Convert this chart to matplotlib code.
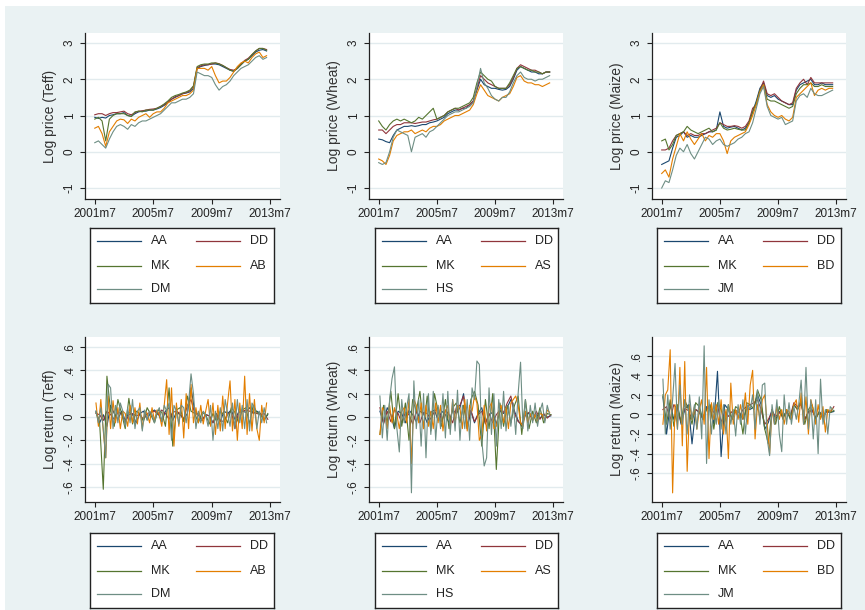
import numpy as np
import matplotlib
matplotlib.use('Agg')
import matplotlib.pyplot as plt
from matplotlib.patches import Rectangle

plt.rcParams['font.family'] = ['Liberation Sans', 'DejaVu Sans']

# months since 2001m7
MONTHS_PRICE = np.arange(0, 142, 3)
MONTHS_RET_DENSE = np.arange(1, 142, 2)
MONTHS_RET_SPARSE = np.arange(1, 143, 3)

XTICKS = [0, 48, 96, 144]
XTICK_LABELS = ['2001m7', '2005m7', '2009m7', '2013m7']

PRICE_TICKS = [-1, 0, 1, 2, 3]
PRICE_TICK_LABELS = ['-1', '0', '1', '2', '3']
RET_TICKS = [-0.6, -0.4, -0.2, 0, 0.2, 0.4, 0.6]
RET_TICK_LABELS = ['-.6', '-.4', '-.2', '0', '.2', '.4', '.6']

TEFF_MARKETS = ['AA', 'DD', 'MK', 'AB', 'DM']
WHEAT_MARKETS = ['AA', 'DD', 'MK', 'AS', 'HS']
MAIZE_MARKETS = ['AA', 'DD', 'MK', 'BD', 'JM']

# ---- log prices (quarterly readings) ----
TEFF_AA = [0.95, 0.92, 0.95, 0.93, 1.0, 1.02, 1.05, 1.05, 1.08, 1.0, 0.98, 1.05,
           1.1, 1.12, 1.12, 1.15, 1.15, 1.18, 1.22, 1.28, 1.35, 1.45, 1.5, 1.55,
           1.6, 1.62, 1.65, 1.75, 2.3, 2.35, 2.38, 2.4, 2.42, 2.42, 2.4, 2.35,
           2.3, 2.25, 2.22, 2.3, 2.4, 2.5, 2.55, 2.65, 2.75, 2.8, 2.82, 2.78]
TEFF_DD = [1.02, 1.05, 1.05, 1.0, 1.05, 1.08, 1.08, 1.1, 1.12, 1.05, 1.02, 1.08,
           1.12, 1.13, 1.15, 1.17, 1.18, 1.2, 1.25, 1.3, 1.38, 1.45, 1.52, 1.55,
           1.6, 1.63, 1.68, 1.8, 2.32, 2.37, 2.4, 2.4, 2.42, 2.45, 2.43, 2.38,
           2.32, 2.27, 2.25, 2.3, 2.42, 2.52, 2.58, 2.68, 2.78, 2.85, 2.85, 2.82]
TEFF_MK = [0.9, 0.95, 0.85, 0.3, 0.9, 1.0, 1.05, 1.05, 1.05, 1.0, 0.97, 1.1,
           1.12, 1.1, 1.15, 1.15, 1.15, 1.2, 1.25, 1.32, 1.4, 1.5, 1.55, 1.58,
           1.62, 1.65, 1.7, 1.82, 2.35, 2.4, 2.42, 2.42, 2.45, 2.45, 2.42, 2.38,
           2.32, 2.25, 2.22, 2.3, 2.4, 2.5, 2.55, 2.68, 2.78, 2.85, 2.85, 2.8]
TEFF_AB = [0.65, 0.7, 0.5, 0.15, 0.55, 0.7, 0.85, 0.9, 0.88, 0.78, 0.9, 0.85,
           0.95, 1.0, 1.05, 0.95, 1.05, 1.1, 1.1, 1.2, 1.35, 1.4, 1.45, 1.5,
           1.55, 1.55, 1.6, 1.7, 2.3, 2.3, 2.3, 2.25, 2.35, 2.1, 1.9, 1.95,
           1.95, 2.05, 2.2, 2.35, 2.45, 2.5, 2.45, 2.6, 2.7, 2.75, 2.6, 2.65]
TEFF_DM = [0.25, 0.3, 0.2, 0.1, 0.35, 0.55, 0.7, 0.75, 0.7, 0.62, 0.75, 0.7,
           0.8, 0.85, 0.85, 0.9, 0.95, 1.0, 1.05, 1.15, 1.25, 1.35, 1.35, 1.4,
           1.45, 1.45, 1.5, 1.6, 2.2, 2.15, 2.1, 2.1, 2.05, 1.85, 1.7, 1.8,
           1.85, 1.95, 2.1, 2.2, 2.3, 2.35, 2.4, 2.5, 2.6, 2.65, 2.55, 2.6]

WHEAT_AA = [0.35, 0.33, 0.28, 0.25, 0.45, 0.6, 0.65, 0.7, 0.7, 0.72, 0.7, 0.72,
            0.75, 0.75, 0.8, 0.82, 0.85, 0.9, 0.95, 1.05, 1.1, 1.15, 1.15, 1.2,
            1.2, 1.3, 1.4, 1.7, 2.0, 1.85, 1.8, 1.75, 1.75, 1.72, 1.7, 1.72,
            1.8, 2.0, 2.25, 2.35, 2.3, 2.25, 2.2, 2.2, 2.15, 2.15, 2.2, 2.2]
WHEAT_DD = [0.6, 0.6, 0.5, 0.6, 0.7, 0.75, 0.75, 0.8, 0.8, 0.8, 0.78, 0.8,
            0.82, 0.82, 0.85, 0.88, 0.9, 0.95, 1.0, 1.1, 1.15, 1.2, 1.15, 1.2,
            1.25, 1.3, 1.4, 1.75, 2.1, 2.0, 1.9, 1.85, 1.8, 1.75, 1.75, 1.75,
            1.85, 2.05, 2.3, 2.4, 2.35, 2.3, 2.25, 2.25, 2.2, 2.15, 2.2, 2.2]
WHEAT_MK = [0.85, 0.7, 0.6, 0.75, 0.85, 0.9, 0.85, 0.9, 0.85, 0.8, 0.85, 0.95,
            0.9, 1.0, 1.1, 1.2, 0.9, 0.95, 1.0, 1.1, 1.15, 1.2, 1.2, 1.25,
            1.3, 1.35, 1.5, 1.9, 2.2, 2.1, 2.0, 1.95, 1.8, 1.75, 1.75, 1.75,
            1.9, 2.1, 2.3, 2.35, 2.3, 2.25, 2.25, 2.2, 2.2, 2.15, 2.2, 2.2]
WHEAT_AS = [-0.2, -0.25, -0.35, -0.1, 0.3, 0.45, 0.5, 0.55, 0.55, 0.6, 0.5, 0.55,
            0.6, 0.55, 0.65, 0.7, 0.7, 0.75, 0.85, 0.9, 0.95, 1.0, 1.0, 1.05,
            1.1, 1.15, 1.3, 1.6, 1.85, 1.7, 1.55, 1.5, 1.45, 1.4, 1.5, 1.55,
            1.6, 1.8, 2.05, 2.1, 1.95, 1.9, 1.9, 1.85, 1.85, 1.8, 1.85, 1.9]
WHEAT_HS = [-0.3, -0.35, -0.3, 0.0, 0.4, 0.6, 0.55, 0.5, 0.45, 0.0, 0.4, 0.45,
            0.5, 0.4, 0.55, 0.6, 0.7, 0.8, 0.9, 1.0, 1.05, 1.1, 1.1, 1.15,
            1.2, 1.25, 1.35, 1.8, 2.3, 1.9, 1.75, 1.55, 1.45, 1.4, 1.5, 1.5,
            1.65, 1.9, 2.1, 2.2, 2.05, 2.0, 2.0, 1.95, 2.0, 2.0, 2.05, 2.1]

MAIZE_AA = [-0.35, -0.3, -0.25, 0.1, 0.4, 0.45, 0.55, 0.4, 0.45, 0.4, 0.4, 0.45,
            0.5, 0.55, 0.55, 0.6, 1.1, 0.7, 0.65, 0.68, 0.7, 0.65, 0.6, 0.65,
            0.8, 1.1, 1.4, 1.75, 1.9, 1.55, 1.5, 1.55, 1.45, 1.4, 1.35, 1.3,
            1.3, 1.7, 1.85, 1.9, 1.95, 2.0, 1.85, 1.85, 1.9, 1.85, 1.85, 1.85]
MAIZE_DD = [0.05, 0.05, 0.1, 0.3, 0.45, 0.5, 0.55, 0.45, 0.5, 0.45, 0.45, 0.5,
            0.5, 0.55, 0.6, 0.65, 0.8, 0.75, 0.7, 0.7, 0.72, 0.7, 0.65, 0.7,
            0.85, 1.2, 1.3, 1.7, 1.95, 1.6, 1.55, 1.6, 1.5, 1.4, 1.35, 1.3,
            1.35, 1.75, 1.9, 2.0, 1.85, 2.05, 1.9, 1.9, 1.9, 1.9, 1.9, 1.9]
MAIZE_MK = [0.3, 0.35, 0.05, 0.2, 0.45, 0.5, 0.55, 0.7, 0.6, 0.55, 0.5, 0.55,
            0.6, 0.65, 0.55, 0.6, 0.8, 0.65, 0.6, 0.62, 0.65, 0.62, 0.6, 0.6,
            0.8, 1.1, 1.35, 1.7, 1.85, 1.45, 1.4, 1.4, 1.35, 1.3, 1.25, 1.2,
            1.25, 1.6, 1.75, 1.85, 1.85, 1.9, 1.8, 1.8, 1.85, 1.8, 1.8, 1.8]
MAIZE_BD = [-0.6, -0.5, -0.7, -0.2, 0.15, 0.5, 0.3, 0.55, 0.35, 0.2, 0.35, 0.5,
            0.3, 0.45, 0.4, 0.5, 0.5, 0.3, -0.05, 0.3, 0.4, 0.45, 0.5, 0.55,
            0.75, 1.0, 1.3, 1.65, 1.85, 1.3, 1.1, 1.0, 0.95, 1.0, 0.9, 0.85,
            0.95, 1.5, 1.6, 1.7, 1.8, 1.9, 1.55, 1.7, 1.75, 1.7, 1.75, 1.75]
MAIZE_JM = [-1.0, -0.8, -0.85, -0.5, -0.1, 0.1, 0.0, 0.2, -0.05, -0.2, 0.0, 0.2,
            0.4, 0.35, 0.2, 0.3, 0.35, 0.2, 0.15, 0.2, 0.25, 0.35, 0.4, 0.5,
            0.55, 0.8, 1.2, 1.6, 1.8, 1.25, 1.0, 0.95, 0.9, 0.95, 0.75, 0.8,
            0.85, 1.4, 1.55, 1.6, 1.5, 1.75, 1.6, 1.55, 1.55, 1.6, 1.65, 1.7]

# ---- log returns ----
TEFF_RET_AA = [0.05, -0.05, 0.02, -0.08, 0.1, 0.03, -0.02, 0.05, -0.03, 0.04, 0.02, -0.05,
               0.03, 0.05, -0.02, 0.04, 0.06, 0.03, -0.04, 0.05, 0.08, -0.03, 0.04, 0.02,
               -0.02, 0.03, 0.25, 0.05, 0.02, -0.03, 0.02, 0.01, -0.05, 0.03, -0.04, 0.05,
               0.03, 0.06, -0.02, 0.04, 0.05, 0.04, 0.08, 0.03, 0.05, 0.03, -0.02, 0.02]
TEFF_RET_DD = [0.03, 0.02, -0.03, 0.05, 0.02, -0.02, 0.04, 0.03, -0.05, 0.02, 0.03, 0.01,
               0.02, -0.02, 0.03, 0.04, 0.05, 0.02, 0.06, 0.03, -0.02, 0.04, 0.05, 0.03,
               -0.02, 0.1, 0.15, 0.03, 0.02, -0.03, 0.02, 0.01, -0.05, 0.01, -0.03, -0.04,
               0.02, 0.05, -0.1, 0.04, 0.05, 0.06, 0.05, 0.04, 0.03, 0.02, 0.03, -0.02]
TEFF_RET_MK = [0.04, -0.05, -0.62, 0.35, 0.05, -0.08, 0.15, 0.03, -0.1, 0.16, -0.06, 0.05,
               0.03, -0.04, 0.08, 0.02, -0.05, 0.06, 0.04, -0.08, 0.25, -0.25, 0.06, 0.08,
               -0.04, 0.18, 0.05, 0.03, -0.05, 0.04, 0.02, -0.06, 0.03, -0.04, 0.05, 0.02,
               -0.05, 0.08, 0.04, -0.05, 0.06, 0.08, -0.06, 0.1, 0.04, 0.02, -0.03, 0.03]
TEFF_RET_AB = [0.12, -0.08, 0.15, -0.12, -0.35, 0.18, -0.1, 0.14, -0.05, 0.08,
               -0.1, 0.05, 0.03, -0.08, 0.1, -0.05, 0.08, -0.06, 0.12, -0.1,
               0.05, 0.03, -0.05, 0.08, -0.03, 0.06, 0.02, -0.08, 0.1, 0.32,
               -0.15, 0.25, -0.25, 0.12, -0.08, 0.15, -0.18, 0.2, -0.1, 0.28,
               -0.05, 0.08, -0.05, 0.1, -0.06, 0.05, 0.15, -0.08, 0.12, -0.15,
               0.1, -0.12, 0.18, -0.1, 0.12, 0.31, -0.12, 0.15, -0.2, 0.12,
               -0.1, 0.35, -0.15, 0.2, -0.12, 0.15, -0.1, -0.2, 0.1, -0.05,
               0.12]
TEFF_RET_DM = [0.05, -0.05, 0.08, -0.1, -0.35, 0.28, 0.25, -0.1, 0.1, -0.05,
               0.12, 0.05, -0.08, 0.08, -0.05, 0.15, -0.1, 0.05, 0.08, -0.12,
               0.06, -0.03, 0.05, 0.02, -0.05, 0.04, 0.08, -0.04, 0.1, 0.05,
               0.12, -0.2, 0.1, 0.05, -0.06, 0.1, 0.08, -0.05, 0.12, 0.37,
               0.2, -0.1, 0.05, -0.05, 0.05, 0.02, -0.08, 0.1, -0.2, 0.05,
               -0.1, 0.08, -0.12, 0.15, 0.03, -0.08, 0.12, -0.1, 0.15, -0.05,
               0.1, -0.1, 0.15, -0.12, 0.12, 0.08, -0.1, 0.05, -0.05, 0.08,
               -0.05]

WHEAT_RET_AA = [0.05, -0.05, 0.08, 0.02, -0.1, 0.05, 0.03, -0.05, 0.06, 0.02, -0.04, 0.05,
                0.03, -0.05, 0.04, 0.06, -0.03, 0.05, 0.02, -0.05, 0.06, 0.03, 0.08, 0.2,
                -0.1, 0.05, -0.05, 0.03, 0.08, -0.05, 0.02, 0.04, -0.06, 0.05, 0.03, 0.08,
                0.15, 0.05, -0.03, -0.08, 0.02, 0.03, -0.02, 0.02, -0.01, 0.02, 0.0, 0.01]
WHEAT_RET_DD = [0.08, -0.06, 0.05, -0.04, 0.06, 0.03, -0.05, 0.04, 0.02, -0.06, 0.05, -0.05,
                0.04, 0.03, -0.02, 0.05, 0.08, -0.04, 0.06, 0.02, -0.05, 0.08, 0.1, 0.18,
                -0.08, 0.06, -0.04, 0.02, 0.05, -0.06, 0.03, -0.05, 0.02, 0.06, 0.04, 0.12,
                0.18, 0.03, -0.04, -0.06, 0.02, 0.04, -0.03, 0.05, -0.02, 0.03, -0.01, 0.02]
WHEAT_RET_MK = [-0.15, 0.1, -0.05, 0.22, -0.1, 0.2, -0.08, 0.12, -0.2, 0.15, 0.05, 0.22,
                -0.1, 0.18, -0.12, 0.2, 0.05, -0.08, 0.15, -0.1, 0.08, 0.12, -0.05, 0.1,
                -0.1, 0.15, 0.22, 0.1, -0.25, 0.15, -0.1, 0.2, -0.45, 0.12, -0.08, 0.1,
                -0.05, 0.1, 0.18, -0.15, 0.15, -0.1, 0.05, -0.05, 0.08, -0.05, 0.03, 0.02]
WHEAT_RET_AS = [-0.15, 0.08, 0.05, -0.1, 0.1, -0.05, 0.08, 0.02, -0.1, 0.05,
                0.08, -0.05, 0.15, -0.4, 0.15, 0.1, -0.05, 0.12, -0.1, 0.1,
                -0.08, 0.05, -0.1, 0.12, -0.05, 0.1, -0.12, 0.05, 0.1, -0.1,
                0.15, -0.05, 0.1, 0.08, -0.1, 0.15, -0.12, 0.1, 0.05, 0.18,
                0.12, -0.2, -0.15, 0.1, -0.12, 0.08, 0.12, -0.1, -0.08, 0.05,
                0.1, -0.05, 0.08, -0.1, 0.12, 0.15, 0.18, 0.1, -0.05, -0.08,
                0.05, -0.05, 0.03, -0.03, 0.02, -0.04, 0.03, 0.02, -0.03, 0.06,
                0.04]
WHEAT_RET_HS = [0.18, -0.18, 0.1, -0.2, 0.15, 0.33, 0.43, -0.1, -0.3, 0.15,
                -0.05, 0.08, 0.2, -0.65, 0.31, -0.1, 0.15, -0.25, 0.2, -0.35,
                0.2, -0.15, 0.22, -0.2, 0.1, -0.1, 0.2, -0.18, 0.22, -0.15,
                0.15, -0.12, 0.23, -0.2, 0.1, -0.1, 0.15, -0.2, 0.25, 0.15,
                0.48, 0.45, -0.2, -0.42, -0.35, 0.25, -0.15, 0.2, -0.25, 0.15,
                -0.1, 0.22, -0.12, 0.1, -0.08, 0.12, -0.15, 0.2, 0.47, -0.1,
                0.15, -0.12, 0.1, -0.05, 0.12, -0.08, 0.05, 0.12, -0.05, 0.1,
                0.02]

MAIZE_RET_AA = [0.18, -0.2, 0.1, -0.05, 0.08, -0.1, 0.05, 0.1, -0.3, 0.05, 0.02, -0.05,
                0.08, 0.05, -0.1, 0.44, -0.43, 0.1, 0.05, -0.05, 0.04, 0.02, -0.05, 0.06,
                0.05, 0.08, 0.2, 0.1, -0.15, -0.08, 0.05, -0.05, 0.03, -0.02, 0.03, -0.03,
                0.1, 0.05, 0.12, -0.05, 0.03, 0.05, -0.04, 0.03, -0.02, 0.03, 0.02, 0.03]
MAIZE_RET_DD = [0.05, 0.08, -0.05, 0.1, 0.05, -0.08, 0.06, 0.04, -0.05, 0.05, 0.03, -0.04,
                0.06, 0.08, 0.02, 0.1, -0.08, 0.03, -0.02, 0.03, 0.02, -0.03, 0.05, 0.08,
                0.1, 0.12, 0.15, 0.05, -0.1, -0.05, 0.03, -0.02, 0.02, -0.03, 0.02, -0.02,
                0.12, 0.08, 0.1, -0.05, 0.02, 0.04, -0.03, 0.02, -0.02, 0.03, 0.02, 0.08]
MAIZE_RET_MK = [0.2, -0.1, 0.15, -0.12, 0.1, -0.08, 0.15, 0.05, -0.1, 0.12, 0.08, -0.05,
                0.05, 0.1, -0.15, 0.12, 0.05, -0.08, 0.1, -0.05, 0.08, 0.05, -0.2, 0.12,
                0.1, 0.05, 0.25, 0.15, -0.15, -0.3, 0.05, -0.1, 0.08, -0.05, 0.05, -0.05,
                0.1, 0.05, 0.15, -0.1, 0.05, 0.1, -0.05, 0.03, -0.05, 0.05, 0.02, 0.04]
MAIZE_RET_BD = [-0.1, 0.2, 0.25, 0.66, -0.8, 0.1, -0.15, 0.48, -0.32, 0.54,
                -0.58, 0.1, -0.05, 0.08, -0.15, 0.05, 0.15, -0.1, 0.48, -0.45,
                0.12, -0.05, 0.1, -0.1, 0.15, -0.2, 0.05, -0.45, 0.32, -0.1,
                0.05, -0.05, 0.1, -0.05, 0.22, -0.1, 0.3, 0.45, -0.25, 0.1,
                -0.05, 0.15, 0.2, -0.1, -0.4, 0.05, -0.1, 0.08, -0.05, 0.05,
                -0.1, 0.05, 0.03, -0.05, 0.1, 0.15, -0.08, 0.22, -0.1, 0.18,
                -0.2, 0.15, 0.05, -0.1, 0.1, -0.05, 0.08, -0.18, 0.05, 0.03,
                0.06]
MAIZE_RET_JM = [0.36, -0.2, 0.2, -0.15, 0.15, 0.52, -0.15, 0.3, -0.1, 0.15,
                -0.2, 0.2, -0.05, 0.1, -0.15, 0.18, -0.25, 0.7, -0.5, 0.15,
                -0.2, 0.12, -0.1, 0.15, -0.15, 0.1, -0.2, 0.1, -0.1, 0.05,
                -0.22, 0.1, -0.1, 0.15, -0.2, 0.1, 0.05, 0.2, -0.15, 0.25,
                -0.1, 0.3, 0.32, -0.25, -0.42, 0.1, -0.1, 0.15, -0.2, -0.38,
                0.2, -0.1, 0.12, -0.1, 0.08, -0.05, 0.1, 0.35, -0.1, 0.48,
                -0.15, 0.15, -0.25, 0.15, -0.4, 0.36, -0.1, 0.05, -0.2, 0.08,
                0.05]

COLORS = ['#1a476f', '#90353b', '#55752f', '#e37e00', '#6e8e84']
BG = '#eaf2f3'
GRID = '#e2ebee'

W, H = 865, 610
fig = plt.figure(figsize=(W / 100, H / 100), dpi=100, facecolor='white')
fig.patches.append(Rectangle((5 / W, 0), 1, 1 - 6 / H, transform=fig.transFigure,
                             facecolor=BG, edgecolor='none', zorder=-10))


def px_rect(x0, y0, x1, y1):
    return [x0 / W, 1 - y1 / H, (x1 - x0) / W, (y1 - y0) / H]


def draw_panel(box, series, ylabel, yticks, yticklabels, ylim):
    ax = fig.add_axes(px_rect(*box))
    ax.set_facecolor('white')
    for y in yticks:
        ax.axhline(y, color=GRID, lw=1.0, zorder=0)
    for (x, y), c in zip(series, COLORS):
        ax.plot(x, y, color=c, lw=0.8)
    ax.set_xlim(-8, 152)
    ax.set_ylim(*ylim)
    ax.set_xticks(XTICKS)
    ax.set_xticklabels(XTICK_LABELS, fontsize=8.5, color='#222222')
    ax.set_yticks(yticks)
    ax.set_yticklabels(yticklabels, fontsize=8.5, color='#222222')
    for lab in ax.get_yticklabels():
        lab.set_rotation(90)
        lab.set_va('center')
    ax.tick_params(length=3.8, width=0.8, color='#222222', pad=3)
    for side in ['top', 'right']:
        ax.spines[side].set_visible(False)
    for side in ['left', 'bottom']:
        ax.spines[side].set_color('#222222')
        ax.spines[side].set_linewidth(0.9)
    ax.set_ylabel(ylabel, fontsize=10, color='#333333', va='center')
    w = box[2] - box[0]
    ax.yaxis.set_label_coords(-35 / w, 0.5)
    return ax


def draw_legend(box, names):
    ax = fig.add_axes(px_rect(*box))
    ax.set_facecolor('white')
    ax.set_xlim(0, box[2] - box[0])
    ax.set_ylim(box[3] - box[1], 0)
    ax.set_xticks([])
    ax.set_yticks([])
    for s in ax.spines.values():
        s.set_color('#222222')
        s.set_linewidth(1.0)
    spots = [(0, 12.7), (1, 12.7), (0, 37.7), (1, 37.7), (0, 61)]
    for (col, yy), name, c in zip(spots, names, COLORS):
        x0 = 6.7 + 99 * col
        ax.plot([x0, x0 + 44], [yy, yy], color=c, lw=0.9)
        ax.text(x0 + 54.5, yy, name, fontsize=9, color='#222222', va='center')


COL_X = [(85, 280), (369, 563), (652, 846)]
LEG_X = [(90, 274), (375, 558), (657, 841)]

price_panels = [
    ('Log price (Teff)', [TEFF_AA, TEFF_DD, TEFF_MK, TEFF_AB, TEFF_DM], TEFF_MARKETS),
    ('Log price (Wheat)', [WHEAT_AA, WHEAT_DD, WHEAT_MK, WHEAT_AS, WHEAT_HS], WHEAT_MARKETS),
    ('Log price (Maize)', [MAIZE_AA, MAIZE_DD, MAIZE_MK, MAIZE_BD, MAIZE_JM], MAIZE_MARKETS),
]
return_panels = [
    ('Log return (Teff)', [TEFF_RET_AA, TEFF_RET_DD, TEFF_RET_MK, TEFF_RET_AB, TEFF_RET_DM],
     TEFF_MARKETS, (-0.729, 0.686)),
    ('Log return (Wheat)', [WHEAT_RET_AA, WHEAT_RET_DD, WHEAT_RET_MK, WHEAT_RET_AS, WHEAT_RET_HS],
     WHEAT_MARKETS, (-0.729, 0.686)),
    ('Log return (Maize)', [MAIZE_RET_AA, MAIZE_RET_DD, MAIZE_RET_MK, MAIZE_RET_BD, MAIZE_RET_JM],
     MAIZE_MARKETS, (-0.893, 0.79)),
]

ret_months = [MONTHS_RET_SPARSE, MONTHS_RET_SPARSE, MONTHS_RET_SPARSE,
              MONTHS_RET_DENSE, MONTHS_RET_DENSE]

for i, (title, vals, names) in enumerate(price_panels):
    x0, x1 = COL_X[i]
    draw_panel((x0, 33, x1, 199), [(MONTHS_PRICE, v) for v in vals], title,
               PRICE_TICKS, PRICE_TICK_LABELS, (-1.303, 3.276))
    lx0, lx1 = LEG_X[i]
    draw_legend((lx0, 228, lx1, 303), names)

for i, (title, vals, names, ylim) in enumerate(return_panels):
    x0, x1 = COL_X[i]
    draw_panel((x0, 337, x1, 502), list(zip(ret_months, vals)), title,
               RET_TICKS, RET_TICK_LABELS, ylim)
    lx0, lx1 = LEG_X[i]
    draw_legend((lx0, 533, lx1, 608), names)

fig.savefig('out.png', dpi=100, facecolor='white')
